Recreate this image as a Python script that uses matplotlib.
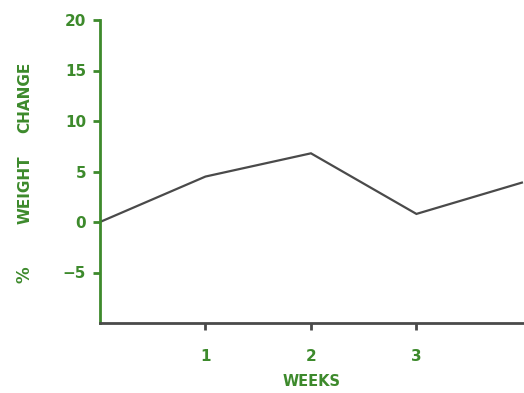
import matplotlib
matplotlib.use('Agg')
import matplotlib.pyplot as plt

# weekly weight change, percent
weeks = [0, 1, 2, 3, 4]
weight_change = [0.0, 4.5, 6.8, 0.8, 3.9]

x_ticks = [1, 2, 3]
y_ticks = [-5, 0, 5, 10, 15, 20]

green = '#3d8a2c'
ink = '#4a4a4a'

plt.rcParams['font.family'] = ['DejaVu Sans']
plt.rcParams['font.weight'] = 'bold'

fig = plt.figure(figsize=(5.24, 3.93), dpi=100)
ax = fig.add_axes([100 / 524, 1 - 323 / 393, 1 - 100 / 524, (323 - 20) / 393])

ax.plot(weeks, weight_change, color=ink, lw=1.6, solid_joinstyle='miter')

ax.set_xlim(0, 4.02)
ax.set_ylim(-10, 20)
ax.set_xticks(x_ticks)
ax.set_yticks(y_ticks)
ax.set_xticklabels([str(t) for t in x_ticks])
ax.set_yticklabels(['\u22125' if t < 0 else str(t) for t in y_ticks])

for side in ('top', 'right'):
    ax.spines[side].set_visible(False)
ax.spines['left'].set_color(green)
ax.spines['left'].set_linewidth(2.0)
ax.spines['bottom'].set_color(ink)
ax.spines['bottom'].set_linewidth(2.0)

ax.tick_params(axis='y', colors=green, length=5, width=2, pad=5, labelsize=11)
ax.tick_params(axis='x', colors=ink, labelcolor=green, length=5, width=2,
               pad=14, labelsize=11)

fig.text(312 / 524, 1 - 382 / 393, 'WEEKS', color=green, fontsize=10.5,
         fontweight='bold', ha='center', va='center')

# y label pieces, spaced like the printed figure
fig.text(25 / 524, 1 - 275 / 393, '%', rotation=90, color=green, fontsize=12,
         fontweight='bold', ha='center', va='center')
fig.text(25 / 524, 1 - 190 / 393, 'WEIGHT', rotation=90, color=green, fontsize=11,
         fontweight='bold', ha='center', va='center')
fig.text(25 / 524, 1 - 97 / 393, 'CHANGE', rotation=90, color=green, fontsize=11,
         fontweight='bold', ha='center', va='center')

fig.savefig('out.png', dpi=100)
